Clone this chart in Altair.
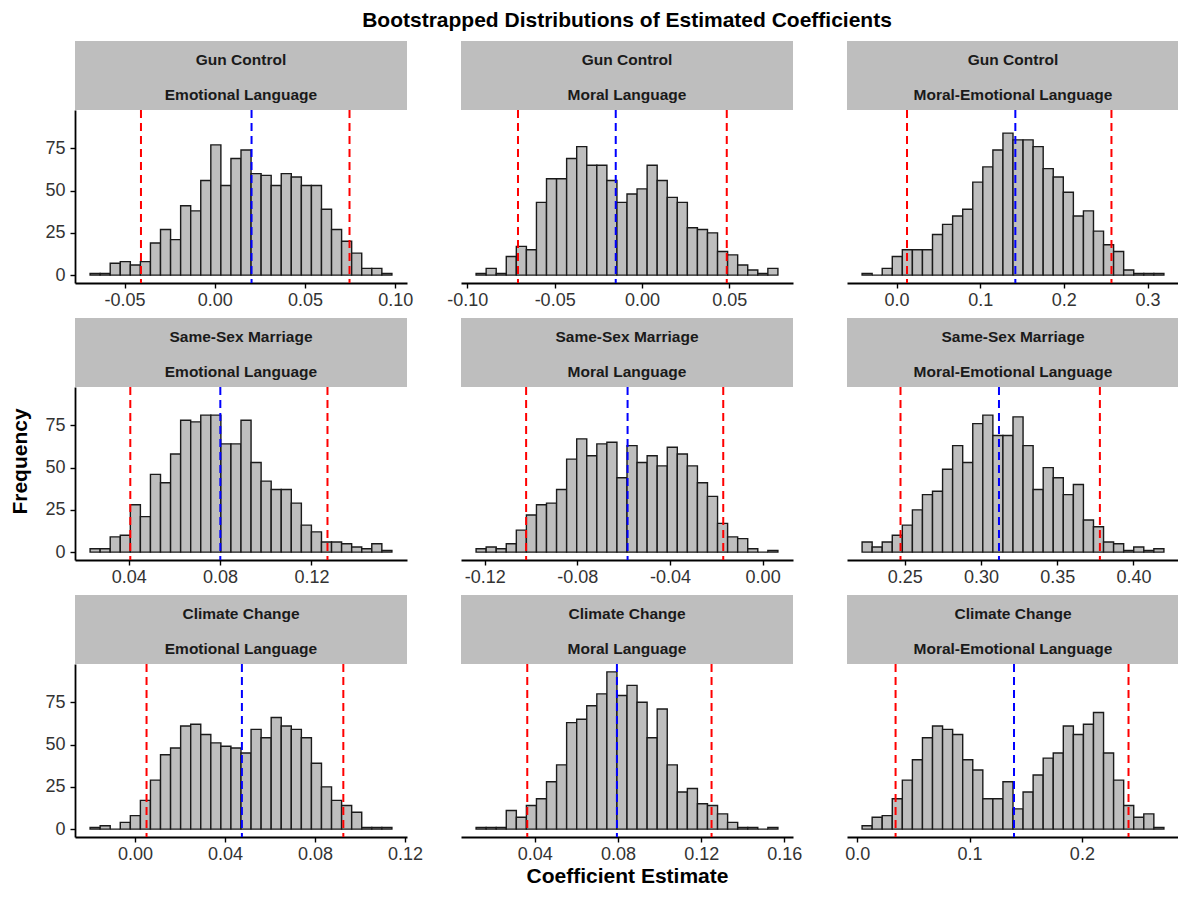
import altair as alt
import pandas as pd

# ---------------- data ----------------
topics = ["Gun Control"] * 3 + ["Same-Sex Marriage"] * 3 + ["Climate Change"] * 3
languages = ["Emotional Language", "Moral Language", "Moral-Emotional Language"] * 3

# left edge of first bin and right edge of last bin (30 bins each)
bin_lo = [-0.0691, -0.0950, -0.0412, 0.0231, -0.1237, 0.2220, -0.0200, 0.0118, 0.0044]
bin_hi = [0.0982, 0.0779, 0.3196, 0.1552, 0.0066, 0.4200, 0.1142, 0.1569, 0.2730]

counts = [
    [1, 1, 7, 8, 6, 8, 19, 27, 21, 41, 38, 56, 77, 53, 69, 74, 60, 59, 53, 60, 58, 53, 53, 39, 27, 20, 13, 4, 4, 1],
    [1, 4, 1, 11, 17, 15, 43, 57, 57, 69, 76, 65, 65, 56, 43, 48, 51, 65, 56, 46, 43, 28, 27, 25, 14, 12, 6, 3, 1, 4],
    [1, 0, 4, 11, 15, 15, 15, 24, 30, 35, 39, 55, 64, 74, 84, 80, 80, 76, 63, 58, 49, 35, 38, 26, 18, 14, 3, 1, 1, 1],
    [2, 2, 9, 10, 28, 21, 46, 41, 58, 78, 77, 81, 81, 64, 64, 78, 53, 42, 37, 37, 29, 16, 12, 6, 6, 5, 3, 2, 5, 1],
    [2, 3, 2, 5, 13, 22, 28, 29, 37, 55, 67, 57, 64, 65, 44, 63, 53, 57, 51, 62, 58, 51, 41, 33, 17, 9, 8, 2, 0, 1],
    [6, 3, 6, 10, 16, 25, 34, 36, 49, 63, 53, 76, 81, 69, 69, 80, 63, 37, 50, 44, 34, 40, 19, 15, 6, 5, 1, 3, 1, 2],
    [1, 2, 0, 4, 8, 17, 29, 44, 48, 61, 62, 56, 51, 49, 48, 45, 59, 54, 66, 61, 59, 54, 39, 25, 17, 14, 10, 1, 1, 1],
    [1, 1, 1, 11, 7, 14, 18, 28, 38, 63, 65, 73, 80, 93, 79, 85, 75, 54, 71, 38, 22, 24, 15, 14, 9, 4, 1, 1, 0, 1],
    [2, 7, 8, 18, 29, 41, 54, 61, 59, 56, 41, 35, 18, 18, 28, 12, 22, 32, 42, 45, 61, 56, 62, 69, 45, 29, 14, 7, 9, 1],
]

ci_lo = [-0.0409, -0.0710, 0.0125, 0.0407, -0.1021, 0.2472, 0.0051, 0.0364, 0.0342]
ci_hi = [0.0747, 0.0486, 0.2569, 0.1270, -0.0170, 0.3780, 0.0926, 0.1250, 0.2415]
center = [0.0204, -0.0150, 0.1420, 0.0801, -0.0583, 0.3118, 0.0475, 0.0795, 0.1396]

tick_values = [
    [-0.05, 0.0, 0.05, 0.10],
    [-0.10, -0.05, 0.0, 0.05],
    [0.0, 0.1, 0.2, 0.3],
    [0.04, 0.08, 0.12],
    [-0.12, -0.08, -0.04, 0.0],
    [0.25, 0.30, 0.35, 0.40],
    [0.0, 0.04, 0.08, 0.12],
    [0.04, 0.08, 0.12, 0.16],
    [0.0, 0.1, 0.2],
]
tick_decimals = [2, 2, 1, 2, 2, 2, 2, 2, 1]
y_ticks = [0, 25, 50, 75]

title_text = "Bootstrapped Distributions of Estimated Coefficients"
x_title = "Coefficient Estimate"
y_title = "Frequency"

# ---------------- layout / style ----------------
W = 332
H = 173
STRIP = 69
Y_DOMAIN = [-4.65, 97.65]
FONT = "Liberation Sans"
LABEL_SIZE = 18
BIG = 21


def fmt_expr(d):
    return f"(datum.value < 0 ? '-' : '') + format(abs(datum.value), '.{d}f')"


one = pd.DataFrame({"k": [0]})
panels = []
for i in range(9):
    row, col = divmod(i, 3)
    n = len(counts[i])
    step = (bin_hi[i] - bin_lo[i]) / n
    df = pd.DataFrame({
        "x": [bin_lo[i] + k * step for k in range(n)],
        "x2": [bin_lo[i] + (k + 1) * step for k in range(n)],
        "count": counts[i],
        "base": [0] * n,
    })
    ldf = pd.DataFrame({"x": [ci_lo[i], ci_hi[i], center[i]],
                        "c": ["#FF0000", "#FF0000", "#0000FF"]})
    span = bin_hi[i] - bin_lo[i]
    xdom = [bin_lo[i] - 0.05 * span, bin_hi[i] + 0.05 * span]

    ax_kw = dict(values=tick_values[i], labelExpr=fmt_expr(tick_decimals[i]),
                 labelFlush=False, labelOverlap=False, labelPadding=3, title=None)
    if i == 7:
        ax_kw.update(title=x_title, titleFontSize=BIG, titleFontWeight="bold",
                     titleColor="black", titlePadding=2, titleFont=FONT)
    xenc = alt.X("x:Q", scale=alt.Scale(domain=xdom, nice=False, zero=False),
                 axis=alt.Axis(**ax_kw))
    if col == 0:
        yaxis = alt.Axis(values=y_ticks, title=None, labelPadding=5)
    else:
        yaxis = None
    yenc = alt.Y("count:Q", scale=alt.Scale(domain=Y_DOMAIN, nice=False, zero=False), axis=yaxis)

    bars = alt.Chart(df).mark_rect(fill="#BEBEBE", stroke="#1a1a1a", strokeWidth=1.4).encode(
        x=xenc, x2="x2:Q", y=yenc, y2="base:Q")
    rules = alt.Chart(ldf).mark_rule(strokeDash=[8, 5], strokeWidth=2).encode(
        x=xenc, color=alt.Color("c:N", scale=None))

    strip = alt.Chart(one).mark_rect(fill="#BEBEBE").encode(
        x=alt.value(0), x2=alt.value(W), y=alt.value(-STRIP), y2=alt.value(0))
    s1 = alt.Chart(one).mark_text(fontSize=15.5, fontWeight="bold", color="#1a1a1a",
                                  font=FONT, baseline="middle").encode(
        x=alt.value(W / 2), y=alt.value(-50), text=alt.value(topics[i]))
    s2 = alt.Chart(one).mark_text(fontSize=15.5, fontWeight="bold", color="#1a1a1a",
                                  font=FONT, baseline="middle").encode(
        x=alt.value(W / 2), y=alt.value(-15), text=alt.value(languages[i]))
    layers = [strip, s1, s2, bars, rules]
    if i == 1:
        layers.append(alt.Chart(one).mark_text(fontSize=BIG, fontWeight="bold", color="black",
                                               font=FONT, baseline="middle").encode(
            x=alt.value(W / 2), y=alt.value(-89), text=alt.value(title_text)))
    if i == 3:
        layers.append(alt.Chart(one).mark_text(fontSize=BIG, fontWeight="bold", color="black",
                                               font=FONT, baseline="middle", angle=270).encode(
            x=alt.value(-54), y=alt.value(H / 2 - 12), text=alt.value(y_title)))
    panels.append(alt.layer(*layers).properties(width=W, height=H))

chart = alt.concat(*panels, columns=3, spacing={"row": 104, "column": 54}, bounds="flush").properties(
    padding={"left": 2, "top": 2, "right": -1, "bottom": 0}
).configure(font=FONT).configure_view(stroke=None).configure_axis(
    grid=False, domainColor="black", domainWidth=1.8, tickColor="black", tickWidth=1.4,
    tickSize=5, labelFontSize=LABEL_SIZE, labelColor="#333333", labelFont=FONT
)

chart.save("out.html", embed_options={"renderer": "svg", "actions": False})
